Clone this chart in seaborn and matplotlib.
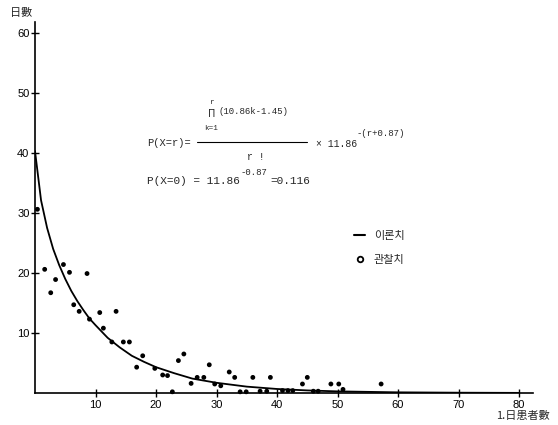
import matplotlib
matplotlib.use("Agg")
import matplotlib.pyplot as plt
from matplotlib.lines import Line2D
import seaborn as sns
import pandas as pd

obs_x = [0.4, 1.6, 2.6, 3.4, 4.7, 5.7, 6.4, 7.3, 8.6, 9.0, 10.7, 11.3, 12.7, 13.4,
         14.6, 15.6, 16.8, 17.8, 19.8, 21.1, 21.9, 22.7, 23.7, 24.6, 25.8, 26.8,
         27.9, 28.8, 29.7, 30.7, 32.1, 33.0, 33.9, 34.9, 36.0, 37.2, 38.3, 38.9,
         40.9, 41.8, 42.6, 44.2, 45.0, 46.0, 46.8, 48.9, 50.2, 50.9, 57.2]
obs_y = [30.6, 20.6, 16.7, 18.9, 21.4, 20.1, 14.7, 13.6, 19.9, 12.3, 13.4, 10.8, 8.5, 13.6,
         8.5, 8.5, 4.3, 6.2, 4.1, 3.0, 2.9, 0.2, 5.4, 6.5, 1.6, 2.6,
         2.6, 4.7, 1.5, 1.2, 3.5, 2.6, 0.2, 0.2, 2.6, 0.3, 0.3, 2.6,
         0.4, 0.4, 0.4, 1.5, 2.6, 0.3, 0.3, 1.5, 1.5, 0.6, 1.5]

# Theoretical curve
curve_x = [0, 1, 2, 3, 4, 5, 6, 7, 8, 9, 10, 12, 14, 16, 18, 20, 23, 26, 30, 35, 40,
           45, 50, 60, 70, 80]
curve_y = [40.3, 32.1, 27.5, 24.0, 21.3, 19.0, 17.0, 15.3, 13.8, 12.4, 11.3, 9.2, 7.6,
           6.2, 5.2, 4.3, 3.3, 2.4, 1.7, 1.06, 0.67, 0.43, 0.27, 0.11, 0.05, 0.02]

x_ticks = [10, 20, 30, 40, 50, 60, 70, 80]
y_ticks = [10, 20, 30, 40, 50, 60]

sns.set_style("ticks")
plt.rcParams['font.family'] = ['Liberation Sans', 'Noto Sans CJK KR', 'DejaVu Sans']

W, H = 558, 425
fig = plt.figure(figsize=(W / 100, H / 100), dpi=100)
ax = fig.add_axes([35 / W, 1 - 393 / H, (533 - 35) / W, (393 - 22) / H])

obs = pd.DataFrame({'x': obs_x, 'y': obs_y})
cur = pd.DataFrame({'x': curve_x, 'y': curve_y})
sns.lineplot(data=cur, x='x', y='y', color='black', lw=1.3, ax=ax)
sns.scatterplot(data=obs, x='x', y='y', color='black', s=12, edgecolor='none', ax=ax,
                clip_on=False, zorder=3)

ax.set_xlim(0, 82.3)
ax.set_ylim(0, 61.8)
ax.set_xticks(x_ticks)
ax.set_yticks(y_ticks)
ax.set_xticklabels([str(v) for v in x_ticks])
ax.set_yticklabels([str(v) for v in y_ticks])
ax.set_xlabel('')
ax.set_ylabel('')
for s in ['top', 'right']:
    ax.spines[s].set_visible(False)
for s in ['left', 'bottom']:
    ax.spines[s].set_color('black')
    ax.spines[s].set_linewidth(1.2)
ax.tick_params(direction='inout', length=6, width=1, colors='black', labelsize=8, pad=2)
ax.tick_params(axis='y', pad=1)

cjk = ['Noto Sans CJK KR', 'DejaVu Sans']
fig.text(32 / W, 1 - 13 / H, '日數', ha='right', va='center', fontsize=8, family=cjk)
fig.text(550 / W, 1 - 416 / H, '1.日患者數', ha='right', va='center', fontsize=8, family=cjk)

mono = ['Liberation Mono', 'DejaVu Sans Mono']
def t(x, y, s, fs=7.5, **kw):
    kw.setdefault('family', mono)
    fig.text(x / W, 1 - y / H, s, va='center', fontsize=fs, **kw)

t(147, 143, 'P(X=r)=')
t(211.5, 103, 'r', fs=5.5, ha='center')
t(211.5, 114, '\u03a0', fs=7, ha='center', family=['DejaVu Sans'])
t(211.5, 129, 'k=1', fs=5.5, ha='center')
t(218, 112, '(10.86k-1.45)', fs=6.5)
fig.add_artist(Line2D([197 / W, 307 / W], [1 - 142 / H, 1 - 142 / H], color='black', lw=0.8))
t(256, 157, 'r !', fs=7, ha='center')
t(316, 144, '\u00d7 11.86', fs=7)
t(357, 134, '-(r+0.87)', fs=6.5)
t(147, 181, 'P(X=0) = 11.86', fs=8)
t(241, 172, '-0.87', fs=6.5)
t(270, 181, '=0.116', fs=8)

handles = [Line2D([], [], color='black', lw=1.5),
           Line2D([], [], color='black', marker='o', ls='none', markersize=4,
                  markerfacecolor='white', markeredgewidth=1.3)]
leg = fig.legend(handles, ['이론치', '관찰치'], loc='upper left',
                 bbox_to_anchor=(354 / W, 1 - 231 / H), frameon=False,
                 prop={'family': cjk, 'size': 8}, handlelength=1.0, handletextpad=0.8,
                 labelspacing=1.25, borderpad=0, borderaxespad=0)

fig.savefig('out.png', dpi=100)
